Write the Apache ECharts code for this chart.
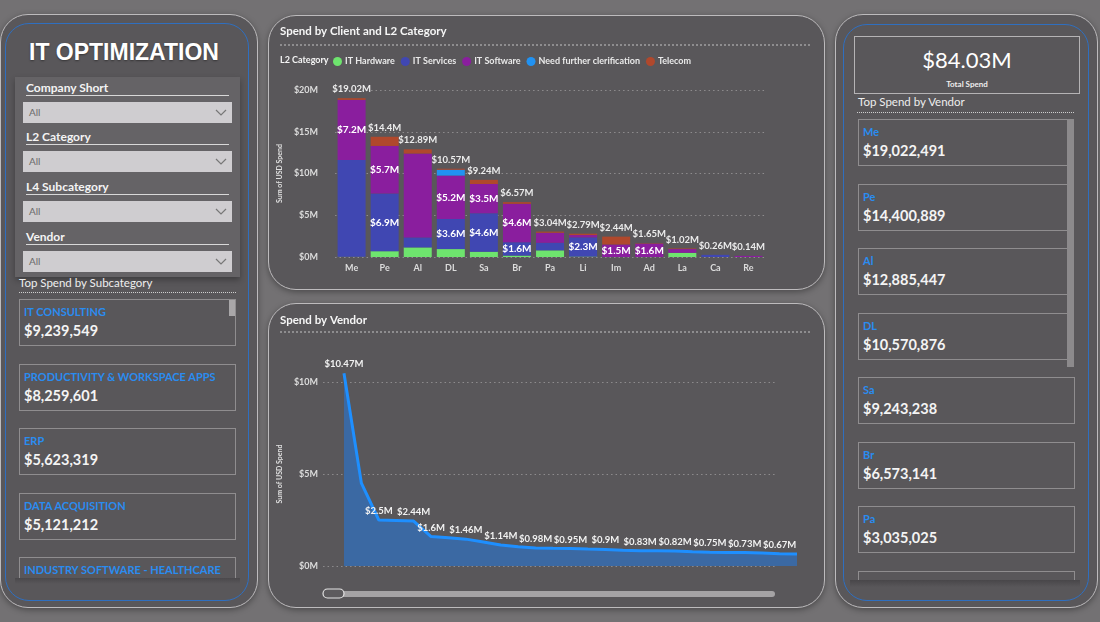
<!DOCTYPE html>
<html>
<head>
<meta charset="utf-8">
<title>IT Optimization</title>
<script src="https://cdn.jsdelivr.net/npm/echarts/dist/echarts.min.js"></script>
<style>
body{margin:0;background:#737173;font-family:Lato,"Noto Sans",sans-serif;}
#page{position:relative;width:1100px;height:622px;overflow:hidden;background:#737173;}
.panel{position:absolute;background:#59575a;border:1.5px solid #bdbbbd;border-radius:28px;box-sizing:border-box;box-shadow:0 2px 6px rgba(0,0,0,.35);}
.blue{position:absolute;border:1px solid #2f6fc0;border-radius:24px;box-sizing:border-box;}
.abs{position:absolute;}
.title{left:29px;top:39px;font-family:"Liberation Sans",Arial,sans-serif;font-weight:bold;font-size:23px;color:#fff;text-shadow:0 1px 2px rgba(0,0,0,.4);}
.slicers{left:15px;top:77px;width:225px;height:200px;background:#656366;box-shadow:0 3px 6px rgba(0,0,0,.3);}
.shead{position:absolute;left:11px;font-size:12px;font-weight:bold;color:#f4f4f4;}
.sline{position:absolute;left:11px;width:203px;height:1px;background:#d8d8d8;}
.sbox{position:absolute;left:8px;width:209px;height:21px;background:#cfcdd0;}
.sbox span{position:absolute;left:6px;top:4px;font-size:10px;color:#6a6a6a;}
.sbox svg{position:absolute;right:5px;top:7px;}
.sect{font-size:11.5px;color:#eee;}
.dash{height:0;border-top:1.5px dotted #cfcfcf;}
.list{overflow:hidden;}
.card{position:absolute;height:47px;border:1.5px solid #8f8d8f;box-sizing:border-box;background:#59575a;}
.card .lab{position:absolute;left:4px;top:5px;font-size:11px;font-weight:bold;color:#2a8cf0;white-space:nowrap;}
.card .val{position:absolute;left:4px;top:22px;font-size:14.5px;font-weight:bold;color:#f4f4f4;}
.chart{position:absolute;}
</style>
</head>
<body>
<div id="page">
  <div class="panel" style="left:0;top:14px;width:258px;height:594px;"></div>
  <div class="blue" style="left:5px;top:23px;width:244px;height:578px;"></div>
  <div class="abs title">IT OPTIMIZATION</div>
  <div class="abs slicers" id="slicers"></div>
  <div class="abs sect" style="left:19px;top:276px;">Top Spend by Subcategory</div>
  <div class="abs dash" style="left:19px;top:292px;width:217px;"></div>
  <div class="abs list" id="subList" style="left:19px;top:298px;width:218px;height:280px;"></div>
  <div class="abs" style="left:229px;top:300px;width:6px;height:16px;background:#a9a7a9;"></div>
  <div class="abs" style="left:15px;top:578px;width:225px;height:6px;background:linear-gradient(#4a484b,rgba(74,72,75,0));"></div>

  <div class="panel" style="left:268px;top:15px;width:557px;height:275px;"></div>
  <div class="panel" style="left:268px;top:303px;width:557px;height:305px;"></div>
  <div class="chart" id="barChart" style="left:268px;top:15px;width:557px;height:275px;"></div>
  <div class="chart" id="lineChart" style="left:268px;top:303px;width:557px;height:305px;"></div>

  <div class="panel" style="left:835px;top:14px;width:263px;height:594px;"></div>
  <div class="blue" style="left:843px;top:24px;width:246px;height:577px;"></div>
  <div class="abs" style="left:854px;top:36px;width:226px;height:58px;border:1.5px solid #b5b3b5;box-sizing:border-box;">
    <div id="totalVal" style="position:absolute;left:0;right:0;top:9px;text-align:center;font-size:22px;color:#fff;"></div>
    <div style="position:absolute;left:0;right:0;top:42px;text-align:center;font-size:8px;font-weight:bold;color:#eee;">Total Spend</div>
  </div>
  <div class="abs sect" style="left:858px;top:95px;">Top Spend by Vendor</div>
  <div class="abs dash" style="left:857px;top:112px;width:217px;"></div>
  <div class="abs list" id="vendList" style="left:858px;top:118px;width:218px;height:462px;"></div>
  <div class="abs" style="left:1067px;top:119px;width:7px;height:248px;background:#8c8a8c;"></div>
  <div class="abs" style="left:850px;top:580px;width:230px;height:7px;background:linear-gradient(#484649,rgba(72,70,73,0));"></div>
</div>
<script>
// slicers
var slicerNames = ['Company Short', 'L2 Category', 'L4 Subcategory', 'Vendor'];
// subcategory cards
var subNames = ['IT CONSULTING', 'PRODUCTIVITY & WORKSPACE APPS', 'ERP', 'DATA ACQUISITION', 'INDUSTRY SOFTWARE - HEALTHCARE'];
var subSpend = ['$9,239,549', '$8,259,601', '$5,623,319', '$5,121,212', ''];
// vendor cards
var vendNames = ['Me', 'Pe', 'Al', 'DL', 'Sa', 'Br', 'Pa', ''];
var vendSpend = ['$19,022,491', '$14,400,889', '$12,885,447', '$10,570,876', '$9,243,238', '$6,573,141', '$3,035,025', ''];
var totalSpend = '$84.03M';

// spend by client and L2 category ($M)
var clients = ['Me', 'Pe', 'Al', 'DL', 'Sa', 'Br', 'Pa', 'Li', 'Im', 'Ad', 'La', 'Ca', 'Re'];
var hardware = [0.02, 0.7, 1.15, 0.95, 0.64, 0.17, 0.8, 0.05, 0, 0, 0.5, 0, 0];
var services = [11.6, 6.9, 1.2, 3.6, 4.6, 1.6, 0.9, 2.3, 0, 0, 0, 0.26, 0];
var software = [7.2, 5.7, 10.04, 5.2, 3.5, 4.6, 1.2, 0.28, 1.5, 1.6, 0.45, 0, 0.14];
var clarification = [0, 0, 0, 0.7, 0, 0, 0, 0, 0, 0, 0, 0, 0];
var telecom = [0.2, 1.1, 0.5, 0.12, 0.5, 0.2, 0.14, 0.16, 0.94, 0.05, 0.07, 0, 0];
var yTicks = [0, 5, 10, 15, 20];

// spend by vendor ($M), visible part of the sorted list
var vendorSpend = [10.47, 4.5, 2.5, 2.47, 2.44, 1.6, 1.53, 1.46, 1.3, 1.14, 1.05, 0.98, 0.96, 0.95, 0.92, 0.9, 0.86, 0.83, 0.83, 0.82, 0.78, 0.75, 0.74, 0.73, 0.7, 0.67, 0.65];
var vendorLabelIdx = [0, 2, 4, 5, 7, 9, 11, 13, 15, 17, 19, 21, 23, 25];
var vendorTicks = [0, 5, 10];

var FONT = 'Lato, "Noto Sans", sans-serif';

// ---- html bits ----
var sl = document.getElementById('slicers');
var heads = [11, 60, 110, 160];
slicerNames.forEach(function (n, i) {
  sl.innerHTML += '<div class="shead" style="top:' + (heads[i] - 8) + 'px">' + n + '</div>' +
    '<div class="sline" style="top:' + (heads[i] + 7) + 'px"></div>' +
    '<div class="sbox" style="top:' + (heads[i] + 14) + 'px"><span>All</span>' +
    '<svg width="12" height="7"><polyline points="1,1 6,6 11,1" fill="none" stroke="#777" stroke-width="1.2"/></svg></div>';
});

var sub = document.getElementById('subList');
subNames.forEach(function (n, i) {
  sub.innerHTML += '<div class="card" style="left:0;top:' + (1 + i * 64.5) + 'px;width:217px;">' +
    '<div class="lab">' + n + '</div><div class="val">' + subSpend[i] + '</div></div>';
});
var vl = document.getElementById('vendList');
vendNames.forEach(function (n, i) {
  vl.innerHTML += '<div class="card" style="left:0;top:' + (1 + i * 64.5) + 'px;width:' + (i < 4 ? 214 : 217) + 'px;">' +
    '<div class="lab">' + n + '</div><div class="val">' + vendSpend[i] + '</div></div>';
});
document.getElementById('totalVal').textContent = totalSpend;

// ---- bar chart ----
var barChart = echarts.init(document.getElementById('barChart'));
var segLabels = {
  'IT Services': ['Pe', 'DL', 'Sa', 'Br', 'Li'],
  'IT Software': ['Me', 'Pe', 'DL', 'Sa', 'Br', 'Im', 'Ad']
};
var seriesDefs = [
  {name: 'IT Hardware', data: hardware, color: '#6ee46e'},
  {name: 'IT Services', data: services, color: '#4047b2'},
  {name: 'IT Software', data: software, color: '#8a1e9e'},
  {name: 'Need further clerification', data: clarification, color: '#2192f2'},
  {name: 'Telecom', data: telecom, color: '#b0482c'}
];
var totals = clients.map(function (c, i) {
  return hardware[i] + services[i] + software[i] + clarification[i] + telecom[i];
});
var barSeries = seriesDefs.map(function (s) {
  var show = segLabels[s.name] || [];
  return {
    name: s.name, type: 'bar', stack: 'all', barWidth: 28,
    itemStyle: {color: s.color},
    data: s.data.map(function (v, i) {
      return {value: v, label: {show: show.indexOf(clients[i]) >= 0}};
    }),
    label: {
      position: 'inside', color: '#fff', fontSize: 10, fontWeight: 'bold', fontFamily: FONT,
      formatter: function (p) { return '$' + p.value.toFixed(1) + 'M'; }
    }
  };
});
barSeries.push({
  name: 'Total', type: 'bar', stack: 'all', barWidth: 28,
  data: totals.map(function () { return 0; }),
  label: {
    show: true, position: 'top', distance: 4, color: '#ececec', fontSize: 9.5, fontWeight: 'bold', fontFamily: FONT,
    formatter: function (p) { return '$' + parseFloat(totals[p.dataIndex].toFixed(2)) + 'M'; }
  }
});
barChart.setOption({
  animation: false,
  textStyle: {fontFamily: FONT},
  title: {text: 'Spend by Client and L2 Category', left: 12, top: 10, padding: 0,
    textStyle: {color: '#f6f6f6', fontSize: 11.5, fontWeight: 'bold', fontFamily: FONT}},
  graphic: [
    {type: 'line', shape: {x1: 12, y1: 30, x2: 544, y2: 30}, style: {stroke: '#c4c4c4', lineWidth: 1, lineDash: [2, 2]}},
    {type: 'text', left: 12, top: 41, style: {text: 'L2 Category', fill: '#f4f4f4', font: 'bold 9px ' + FONT}}
  ],
  legend: {
    data: seriesDefs.map(function (s) { return s.name; }),
    left: 60, top: 37, icon: 'circle', itemWidth: 9, itemHeight: 9, itemGap: 6,
    textStyle: {color: '#eaeaea', fontSize: 9, fontWeight: 'bold', fontFamily: FONT, padding: [0, 0, 0, -2]}
  },
  grid: {left: 65, right: 60, top: 75, bottom: 33},
  xAxis: {
    type: 'category', data: clients,
    axisLine: {show: false}, axisTick: {show: false},
    axisLabel: {color: '#dcdcdc', fontSize: 9, fontWeight: 'bold', margin: 7}
  },
  yAxis: {
    type: 'value', min: yTicks[0], max: yTicks[yTicks.length - 1], interval: 5,
    name: 'Sum of USD Spend', nameLocation: 'middle', nameGap: 49,
    nameTextStyle: {color: '#e0e0e0', fontSize: 7, fontWeight: 'bold'},
    axisLabel: {color: '#dcdcdc', fontSize: 9, fontWeight: 'bold', margin: 17, formatter: function (v) { return '$' + v + 'M'; }},
    splitLine: {lineStyle: {color: '#8e8c8e', type: [1.5, 3]}}
  },
  series: barSeries
});

// ---- line chart ----
var lineChart = echarts.init(document.getElementById('lineChart'));
var gridStyle = {color: '#8e8c8e', type: [1.5, 3], width: 1};
lineChart.setOption({
  animation: false,
  textStyle: {fontFamily: FONT},
  title: {text: 'Spend by Vendor', left: 12, top: 11, padding: 0,
    textStyle: {color: '#f6f6f6', fontSize: 11.5, fontWeight: 'bold', fontFamily: FONT}},
  graphic: [
    {type: 'line', shape: {x1: 12, y1: 29, x2: 544, y2: 29}, style: {stroke: '#c4c4c4', lineWidth: 1, lineDash: [2, 2]}},
    {type: 'rect', shape: {x: 55, y: 288, width: 452, height: 6, r: 3}, style: {fill: '#a5a3a5'}},
    {type: 'rect', shape: {x: 55, y: 286, width: 21, height: 9, r: 4.5}, style: {fill: '#5d5b5e', stroke: '#e4e4e4', lineWidth: 1.2}}
  ],
  grid: {left: 53, right: 28, top: 79, bottom: 42},
  xAxis: {type: 'value', min: -1.2, max: vendorSpend.length - 1, show: false, splitLine: {show: false}},
  yAxis: {
    type: 'value', min: 0, max: 10, interval: 5,
    name: 'Sum of USD Spend', nameLocation: 'middle', nameGap: 37,
    nameTextStyle: {color: '#e0e0e0', fontSize: 7, fontWeight: 'bold'},
    axisLabel: {color: '#dcdcdc', fontSize: 9, fontWeight: 'bold', margin: 5, formatter: function (v) { return '$' + v + 'M'; }},
    splitLine: {show: false}
  },
  series: [{
    type: 'line', clip: false, symbol: 'circle', symbolSize: 0.1, z: 3,
    lineStyle: {color: '#1e8fff', width: 3},
    itemStyle: {color: '#1e8fff'},
    areaStyle: {color: '#3b69a3', opacity: 1},
    data: vendorSpend.map(function (v, i) {
      return {value: [i, v], label: {show: vendorLabelIdx.indexOf(i) >= 0}};
    }),
    label: {
      position: 'top', distance: 4, color: '#f2f2f2', fontSize: 9.5, fontWeight: 'bold', fontFamily: FONT,
      formatter: function (p) { return '$' + p.value[1] + 'M'; }
    },
    markLine: {
      silent: true, symbol: 'none', label: {show: false}, lineStyle: gridStyle, z: 1,
      data: vendorTicks.map(function (t) { return [{coord: [-1.2, t]}, {coord: [24.74, t]}]; })
    }
  }]
});
</script>
</body>
</html>
